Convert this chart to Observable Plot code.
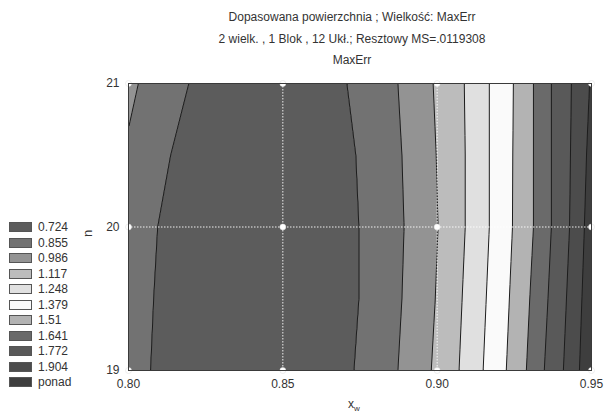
<!DOCTYPE html>
<html>
<head>
<meta charset="utf-8">
<script src="https://cdn.jsdelivr.net/npm/d3@7"></script>
<script src="https://cdn.jsdelivr.net/npm/@observablehq/plot@0.6"></script>
<style>
  html, body { margin: 0; padding: 0; background: #fff; }
  #wrap { position: relative; width: 605px; height: 417px; overflow: hidden;
          font-family: "Liberation Sans", Arial, sans-serif; color: #333; }
  #chart { position: absolute; left: 0; top: 0; }
  .t { position: absolute; left: 152px; width: 400px; text-align: center; font-size: 12px; white-space: nowrap; }
  .lg { position: absolute; left: 9px; height: 10px; width: 23px; box-sizing: border-box; border: 1px solid #555; }
  .lt { position: absolute; left: 38px; font-size: 12px; line-height: 14px; }
</style>
</head>
<body>
<div id="wrap">
  <div id="chart"></div>
  <div class="t" style="top:10px">Dopasowana powierzchnia ; Wielkość: MaxErr</div>
  <div class="t" style="top:32px">2 wielk. , 1 Blok , 12 Ukł.; Resztowy MS=.0119308</div>
  <div class="t" style="top:53px">MaxErr</div>
  <div style="position:absolute;left:84px;top:226px;font-size:13px;transform:rotate(-90deg);">n</div>
  <div style="position:absolute;left:348px;top:397px;font-size:12px;">x<sub style="font-size:8px">w</sub></div>
  <div id="legend"></div>
</div>
<script>
// contour levels (legend labels) and band colours
const levels = [0.724, 0.855, 0.986, 1.117, 1.248, 1.379, 1.51, 1.641, 1.772, 1.904];
const legendLabels = ["0.724", "0.855", "0.986", "1.117", "1.248", "1.379", "1.51", "1.641", "1.772", "1.904", "ponad"];
const bandColors = ["#5c5c5c", "#727272", "#939393", "#bcbcbc", "#e0e0e0", "#fafafa", "#b3b3b3", "#6a6a6a", "#595959", "#4c4c4c", "#3e3e3e"];

// fitted surface: for each n row, x_w positions and MaxErr values
const nRows = [21, 20.5, 20, 19.5, 19];
const xwRows = [
  [0.8000, 0.8032, 0.8195, 0.8450, 0.8708, 0.8873, 0.8987, 0.9088, 0.9169, 0.9247, 0.9312, 0.9370, 0.9435, 0.9494, 0.9500],
  [0.8000, 0.8136, 0.8437, 0.8737, 0.8886, 0.8997, 0.9091, 0.9169, 0.9245, 0.9312, 0.9370, 0.9432, 0.9484, 0.9500],
  [0.8000, 0.8094, 0.8420, 0.8747, 0.8893, 0.9003, 0.9091, 0.9169, 0.9244, 0.9312, 0.9370, 0.9429, 0.9477, 0.9500],
  [0.8000, 0.8081, 0.8414, 0.8747, 0.8886, 0.8994, 0.9081, 0.9159, 0.9234, 0.9300, 0.9359, 0.9419, 0.9469, 0.9500],
  [0.8000, 0.8071, 0.8400, 0.8731, 0.8873, 0.8981, 0.9071, 0.9149, 0.9224, 0.9289, 0.9347, 0.9409, 0.9461, 0.9500]
];
const maxErrRows = [
  [0.875, 0.855, 0.724, 0.650, 0.724, 0.855, 0.986, 1.117, 1.248, 1.379, 1.510, 1.641, 1.772, 1.904, 1.926],
  [0.843, 0.724, 0.623, 0.724, 0.855, 0.986, 1.117, 1.248, 1.379, 1.510, 1.641, 1.772, 1.904, 1.953],
  [0.800, 0.724, 0.604, 0.724, 0.855, 0.986, 1.117, 1.248, 1.379, 1.510, 1.641, 1.772, 1.904, 1.974],
  [0.792, 0.724, 0.600, 0.724, 0.855, 0.986, 1.117, 1.248, 1.379, 1.510, 1.641, 1.772, 1.904, 1.990],
  [0.780, 0.724, 0.602, 0.724, 0.855, 0.986, 1.117, 1.248, 1.379, 1.510, 1.641, 1.772, 1.904, 2.020]
];

// design points (12 runs)
const designX = [0.80, 0.85, 0.90, 0.95];
const designN = [19, 20, 21];
const xTicks = [0.80, 0.85, 0.90, 0.95];
const nTicks = [19, 20, 21];

const surface = [];
nRows.forEach((n, i) => xwRows[i].forEach((x, j) => surface.push({x, n, z: maxErrRows[i][j]})));
const design = [];
designX.forEach(x => designN.forEach(n => design.push({x, n})));

const chart = Plot.plot({
  width: 605,
  height: 417,
  marginLeft: 128,
  marginRight: 14,
  marginTop: 83,
  marginBottom: 47,
  style: {fontFamily: "'Liberation Sans', Arial, sans-serif", fontSize: "12px", color: "#333", background: "transparent"},
  x: {domain: [0.80, 0.95], ticks: xTicks, tickFormat: d3.format(".2f"), tickSize: 0, tickPadding: 9, label: null},
  y: {domain: [19, 21], ticks: nTicks, tickFormat: d3.format("d"), tickSize: 0, tickPadding: 9, label: null},
  color: {type: "threshold", domain: levels, range: bandColors},
  marks: [
    Plot.frame({fill: bandColors[0]}),
    Plot.contour(surface, {
      x: "x", y: "n", fill: "z",
      interpolate: "barycentric",
      thresholds: [0, ...levels],
      pixelSize: 1,
      stroke: "#1c1c1c", strokeWidth: 1
    }),
    Plot.ruleX([0.85, 0.90], {stroke: "#ffffff", strokeWidth: 1, strokeDasharray: "1.5,1.5", strokeOpacity: 0.9}),
    Plot.ruleY([20], {stroke: "#ffffff", strokeWidth: 1, strokeDasharray: "1.5,1.5", strokeOpacity: 0.9}),
    Plot.dot(design, {x: "x", y: "n", r: 3, fill: "#ffffff", stroke: "#dddddd", strokeWidth: 0.5}),
    Plot.frame({stroke: "#3a3a3a", strokeWidth: 1})
  ]
});
document.getElementById("chart").appendChild(chart);

// legend
const lg = document.getElementById("legend");
legendLabels.forEach((lab, i) => {
  const cy = 227 + i * 15.5;
  const sw = document.createElement("div");
  sw.className = "lg";
  sw.style.top = (cy - 5) + "px";
  sw.style.background = bandColors[i];
  lg.appendChild(sw);
  const tx = document.createElement("div");
  tx.className = "lt";
  tx.style.top = (cy - 7) + "px";
  tx.textContent = lab;
  lg.appendChild(tx);
});
</script>
</body>
</html>
